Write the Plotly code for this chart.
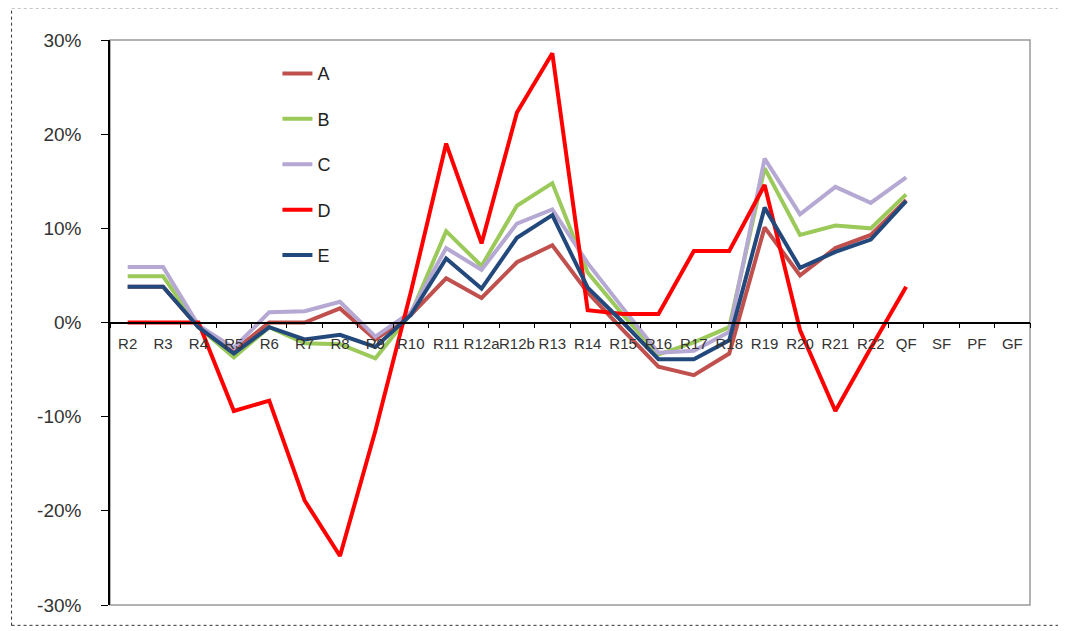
import plotly.graph_objects as go

rounds = ["R2", "R3", "R4", "R5", "R6", "R7", "R8", "R9", "R10", "R11", "R12a", "R12b",
          "R13", "R14", "R15", "R16", "R17", "R18", "R19", "R20", "R21", "R22", "QF", "SF", "PF", "GF"]

series_names = ["A", "B", "C", "D", "E"]

A = [3.8, 3.8, -0.5, -3.0, 0.0, 0.0, 1.5, -1.8, 0.8, 4.7, 2.6, 6.4, 8.2, 3.2, -0.8, -4.7, -5.6, -3.3,
     10.1, 5.0, 7.9, 9.3, 13.0, None, None, None]
B = [4.9, 4.9, -0.5, -3.7, -0.5, -2.2, -2.3, -3.8, 0.9, 9.7, 6.0, 12.4, 14.8, 5.3, 0.8, -3.4, -2.1, -0.5,
     16.4, 9.3, 10.3, 10.0, 13.6, None, None, None]
C = [5.9, 5.9, -0.3, -2.7, 1.1, 1.2, 2.2, -1.5, 1.1, 7.9, 5.6, 10.5, 12.0, 6.3, 1.5, -3.2, -3.0, -1.0,
     17.4, 11.5, 14.4, 12.7, 15.4, None, None, None]
D = [0.0, 0.0, 0.0, -9.4, -8.3, -18.9, -24.8, -11.5, 3.2, 19.0, 8.4, 22.3, 28.6, 1.3, 0.9, 0.9, 7.6, 7.6,
     14.6, -0.8, -9.4, -2.7, 3.8, None, None, None]
E = [3.8, 3.8, -0.5, -3.3, -0.5, -1.8, -1.3, -2.6, 0.8, 6.8, 3.6, 9.0, 11.4, 3.7, 0.0, -3.9, -3.9, -1.9,
     12.2, 5.8, 7.5, 8.8, 12.9, None, None, None]

series_values = [A, B, C, D, E]
colors = ["#C0504D", "#9BC95A", "#B5A8D2", "#FF0000", "#23497C"]

y_ticks = [-30, -20, -10, 0, 10, 20, 30]
y_tick_labels = ["-30%", "-20%", "-10%", "0%", "10%", "20%", "30%"]

FONT = "Liberation Sans, Arial, sans-serif"

fig = go.Figure()
for name, vals, col in zip(series_names, series_values, colors):
    fig.add_trace(go.Scatter(
        x=rounds, y=vals, name=name, mode="lines",
        line=dict(color=col, width=4), legendgroup=name,
    ))

fig.update_layout(
    width=1058, height=623,
    margin=dict(l=102, r=36, t=32, b=26),
    paper_bgcolor="white", plot_bgcolor="white",
    font=dict(family=FONT, color="#222"),
    showlegend=True,
    legend=dict(
        x=0.182, y=0.973, xanchor="left", yanchor="top",
        font=dict(size=18, family=FONT, color="#222"),
        bgcolor="rgba(255,255,255,0)", tracegroupgap=19,
        itemwidth=30,
    ),
    xaxis=dict(
        type="category", categoryorder="array", categoryarray=rounds,
        range=[-0.5, len(rounds) - 0.5],
        anchor="free", position=0.5,
        showline=True, linecolor="#000", linewidth=1.5,
        ticks="outside", ticklen=5, tickcolor="#000", tickwidth=1,
        tickson="boundaries", tickangle=0,
        tickfont=dict(size=15, family=FONT, color="#333"),
        ticklabelstandoff=8,
        showgrid=False, zeroline=False,
    ),
    yaxis=dict(
        range=[-30, 30], tickvals=y_ticks, ticktext=y_tick_labels,
        showline=True, linecolor="#000", linewidth=1.5,
        ticks="outside", ticklen=7, tickcolor="#000",
        tickfont=dict(size=19, family=FONT, color="#333"),
        ticklabelstandoff=16,
        showgrid=False, zeroline=False,
    ),
)

# plot-area border (gray) and outer dotted frame
fig.add_shape(type="rect", xref="paper", yref="paper", x0=0, x1=1, y0=0, y1=1,
              line=dict(color="#9a9a9a", width=1.5), layer="below")
fig.add_shape(type="rect", xref="paper", yref="paper",
              x0=-0.107, x1=1.033, y0=-0.036, y1=1.057,
              line=dict(color="#333", width=1, dash="dot"))

fig.write_html("out.html")
